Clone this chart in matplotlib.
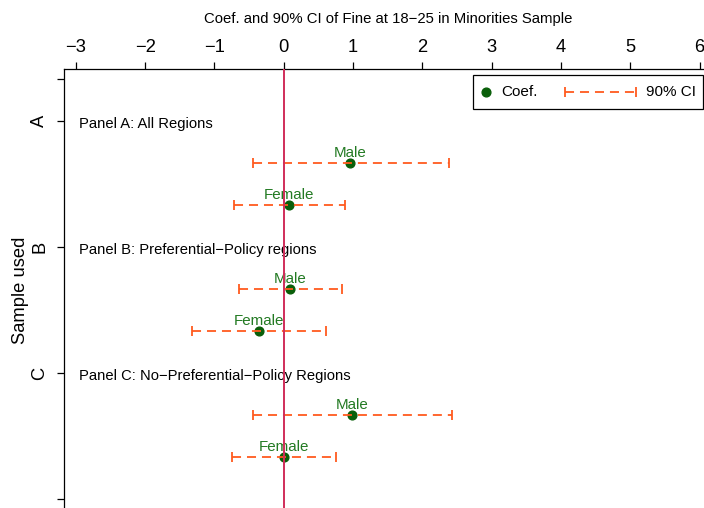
import matplotlib.pyplot as plt
from matplotlib.lines import Line2D
from matplotlib.patches import Rectangle

plt.rcParams['font.family'] = ['Liberation Sans', 'DejaVu Sans']

# Row positions: panel headers at 1, 4, 7; estimates on the rows between
panel_pos = [1, 4, 7]
panel_ticks = ['A', 'B', 'C']
panel_titles = ['Panel A: All Regions',
                'Panel B: Preferential\u2212Policy regions',
                'Panel C: No\u2212Preferential\u2212Policy Regions']

row_pos = [2, 3, 5, 6, 8, 9]
row_labels = ['Male', 'Female', 'Male', 'Female', 'Male', 'Female']
coef = [0.96, 0.08, 0.09, -0.36, 0.99, 0.00]
ci_low = [-0.45, -0.72, -0.65, -1.32, -0.44, -0.75]
ci_high = [2.38, 0.88, 0.84, 0.61, 2.43, 0.75]

green = '#0a5f0a'
text_green = '#237a23'
orange = '#ff5a1f'
crimson = '#d02d5a'

W, H = 704, 508
fig = plt.figure(figsize=(W / 100, H / 100), dpi=100)
ax = fig.add_axes([64.3 / W, -0.003, 0.922, 0.8673])


def fx(px, py):
    return px / W, 1 - py / H


# point estimates
ax.plot(coef, row_pos, 'o', color=green, ms=6.3, zorder=2, clip_on=False)

# confidence intervals
for y, lo, hi in zip(row_pos, ci_low, ci_high):
    ax.plot([lo, hi], [y, y], color=orange, lw=1.3, ls=(0, (5, 3.3)), zorder=3)
    ax.plot([lo, hi], [y, y], ls='none', marker='|', ms=7, mew=1.3,
            color=orange, zorder=3)

ax.axvline(0, color=crimson, lw=1.4, zorder=5)

for x, y, lab in zip(coef, row_pos, row_labels):
    ax.annotate(lab, (x, y), xytext=(0, 7.6), textcoords='offset points',
                ha='center', va='center', color=text_green, fontsize=10.9)

for y, t in zip(panel_pos, panel_titles):
    ax.annotate(t, (-2.95, y), xytext=(0, -2), textcoords='offset points',
                ha='left', va='center', fontsize=10.6)

ax.set_xlim(-3.166, 6.2)
ax.set_ylim(10.245, -0.245)
ax.set_xticks(range(-3, 7))
ax.xaxis.tick_top()
ax.tick_params(axis='x', length=5.2, width=0.9, pad=4, labelsize=13.2)
ax.set_yticks([0] + panel_pos + [10])
ax.set_yticklabels([''] + panel_ticks + [''], rotation=90, va='center')
ax.tick_params(axis='y', length=5.2, width=0.9, pad=6.5, labelsize=13.2)
for s in ax.spines.values():
    s.set_linewidth(0.9)

fig.text(*fx(21, 290), 'Sample used', rotation=90, ha='center', va='center',
         fontsize=13.2)
fig.text(*fx(388, 19), 'Coef. and 90% CI of Fine at 18\u221225 in Minorities Sample',
         ha='center', va='center', fontsize=10.7)

# legend box
x0, y0 = fx(473, 109)
x1, y1 = fx(703, 75)
fig.add_artist(Rectangle((x0, y0), x1 - x0, y1 - y0, transform=fig.transFigure,
                         fill=True, facecolor='white', edgecolor='black', lw=0.9,
                         zorder=6))
fig.add_artist(Line2D(*zip(fx(486, 92)), marker='o', color=green, ms=6.3,
                      transform=fig.transFigure, zorder=7))
fig.text(*fx(501, 92), 'Coef.', ha='left', va='center', fontsize=11, zorder=7)
(lx0, ly), (lx1, _) = fx(565, 92), fx(636, 92)
fig.add_artist(Line2D([lx0, lx1], [ly, ly], color=orange, lw=1.3,
                      ls=(0, (5, 3.3)), transform=fig.transFigure, zorder=7))
fig.add_artist(Line2D([lx0, lx1], [ly, ly], ls='none', marker='|', ms=7,
                      mew=1.3, color=orange, transform=fig.transFigure, zorder=7))
fig.text(*fx(646, 92), '90% CI', ha='left', va='center', fontsize=11, zorder=7)

fig.savefig('out.png', dpi=100)
